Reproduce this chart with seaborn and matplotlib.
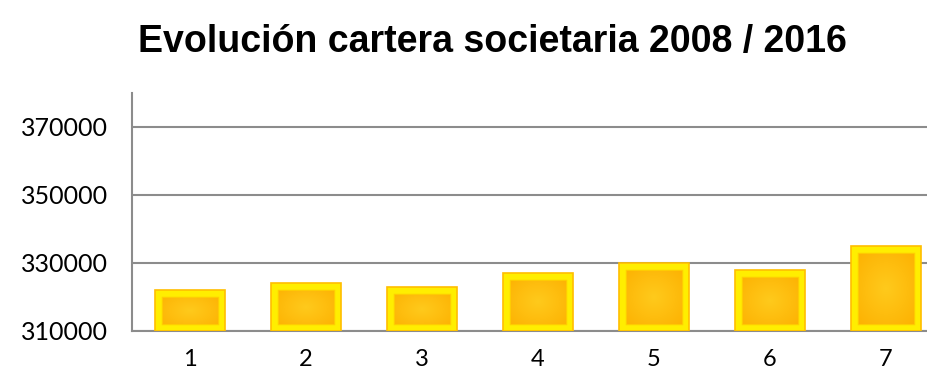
import numpy as np
import pandas as pd
import matplotlib
matplotlib.use("Agg")
import matplotlib.pyplot as plt
import seaborn as sns
from matplotlib.patches import Rectangle

# ---- data ----
categories = ["1", "2", "3", "4", "5", "6", "7"]
values = [322000, 324100, 322900, 327200, 329900, 327900, 334900]
yticks = [310000, 330000, 350000, 370000]
title = "Evolución cartera societaria 2008 / 2016"

YMIN, YMAX = 310000, 380000

df = pd.DataFrame({"cat": categories, "val": values})

sns.set_theme(style="white")
plt.rcParams["font.family"] = ["Lato", "DejaVu Sans"]

fig = plt.figure(figsize=(9.27, 3.72), dpi=100)
ax = fig.add_axes([132 / 927, 41 / 372, 812 / 927, 238 / 372])

sns.barplot(data=df, x="cat", y="val", color="#FDB813", width=0.6,
            ax=ax, saturation=1, zorder=3)

ax.set_ylim(YMIN, YMAX)
ax.set_xlim(-0.5, 6.5)

# radial gradient fill + bevelled yellow border, clipped to the visible bar
ny, nx = 64, 64
yy, xx = np.mgrid[-1:1:ny * 1j, -1:1:nx * 1j]
r = np.clip(np.sqrt(xx ** 2 + yy ** 2) / 1.25, 0, 1)
c_center = np.array(matplotlib.colors.to_rgb("#FFCA1C"))
c_edge = np.array(matplotlib.colors.to_rgb("#FDB000"))
grad = c_center[None, None, :] * (1 - r[..., None]) + c_edge[None, None, :] * r[..., None]

for bar in list(ax.patches):
    x0, w = bar.get_x(), bar.get_width()
    top = bar.get_y() + bar.get_height()
    y0 = YMIN
    h = top - y0
    im = ax.imshow(grad, extent=[x0, x0 + w, y0, top], aspect="auto",
                   zorder=3.5, interpolation="bilinear")
    im.set_clip_path(Rectangle((x0, y0), w, h, transform=ax.transData))
    inner = Rectangle((x0, y0), w, h, facecolor="none", edgecolor="#FFD400",
                      linewidth=10.5, zorder=3.9, alpha=0.9)
    ax.add_patch(inner)
    inner.set_clip_path(Rectangle((x0, y0), w, h, transform=ax.transData))
    border = Rectangle((x0, y0), w, h, facecolor="none", edgecolor="#FFEE00",
                       linewidth=9, zorder=4)
    ax.add_patch(border)
    border.set_clip_path(Rectangle((x0, y0), w, h, transform=ax.transData))
    outline = Rectangle((x0, y0), w, h, facecolor="none", edgecolor="#FFBE00",
                        linewidth=1.2, zorder=4.2)
    ax.add_patch(outline)
    bar.set_visible(False)

ax.set_aspect("auto")
ax.set_ylim(YMIN, YMAX)
ax.set_xlim(-0.5, 6.5)

ax.set_yticks(yticks)
ax.set_yticklabels([str(v) for v in yticks])
ax.yaxis.grid(True, color="#8c8c8c", linewidth=1.5, zorder=0)
ax.set_axisbelow(True)
ax.set_xlabel("")
ax.set_ylabel("")

for s in ["top", "right"]:
    ax.spines[s].set_visible(False)
for s in ["left", "bottom"]:
    ax.spines[s].set_color("#8c8c8c")
    ax.spines[s].set_linewidth(1.5)

ax.tick_params(axis="y", length=0, pad=17, labelsize=18, labelcolor="black")
ax.tick_params(axis="x", length=0, pad=13, labelsize=17, labelcolor="black")

fig.text(0.531, 0.888, title, ha="center", va="center",
         family=["Liberation Sans", "DejaVu Sans"], fontweight="bold",
         fontsize=27, color="black")

fig.savefig("out.png", dpi=100)
